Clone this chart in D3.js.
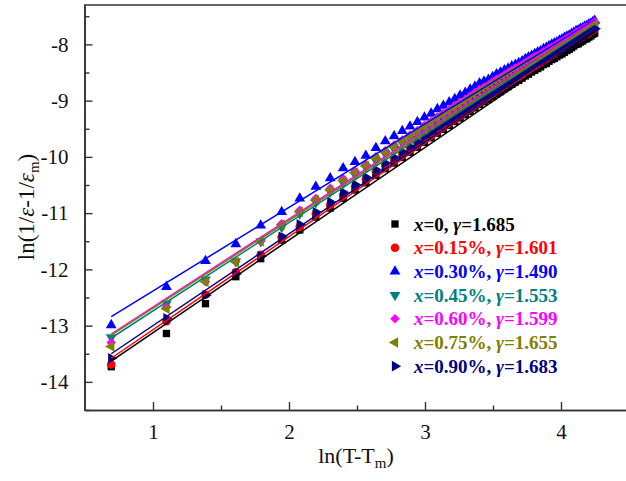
<!DOCTYPE html>
<html><head><meta charset="utf-8">
<script src="https://cdn.jsdelivr.net/npm/d3@7/dist/d3.min.js"></script>
<style>body{margin:0;background:#fff}svg{display:block}text{font-family:"Liberation Serif","Times New Roman",serif}</style>
</head><body><svg id="c" width="626" height="481"></svg>
<script>
// x = ln(T - Tm)
const lnDT = [0.693,1.099,1.386,1.609,1.792,1.946,2.079,2.197,2.303,2.398,2.485,2.565,2.639,2.708,2.773,2.833,2.890,2.944,2.996,3.045,3.091,3.135,3.178,3.219,3.258,3.296,3.332,3.367,3.401,3.434,3.466,3.497,3.526,3.555,3.584,3.611,3.638,3.664,3.689,3.714,3.738,3.761,3.784,3.807,3.829,3.850,3.871,3.892,3.912,3.932,3.951,3.970,3.989,4.007,4.025,4.043,4.060,4.078,4.094,4.111,4.127,4.143,4.159,4.174,4.190,4.205,4.220,4.234,4.248];

const s000 = [-13.73,-13.14,-12.61,-12.13,-11.81,-11.48,-11.30,-11.07,-10.91,-10.74,-10.59,-10.46,-10.33,-10.21,-10.11,-10.01,-9.92,-9.83,-9.74,-9.66,-9.58,-9.51,-9.44,-9.37,-9.31,-9.25,-9.19,-9.13,-9.07,-9.02,-8.98,-8.93,-8.88,-8.84,-8.79,-8.75,-8.71,-8.67,-8.64,-8.60,-8.56,-8.53,-8.49,-8.46,-8.43,-8.40,-8.36,-8.34,-8.30,-8.27,-8.25,-8.22,-8.19,-8.17,-8.14,-8.11,-8.09,-8.06,-8.03,-8.00,-7.99,-7.96,-7.94,-7.91,-7.90,-7.87,-7.85,-7.82,-7.80];
const s015 = [-13.69,-12.92,-12.45,-12.05,-11.74,-11.43,-11.24,-11.01,-10.85,-10.68,-10.53,-10.39,-10.26,-10.14,-10.04,-9.94,-9.85,-9.76,-9.67,-9.59,-9.51,-9.44,-9.37,-9.30,-9.24,-9.18,-9.12,-9.06,-9.00,-8.95,-8.91,-8.86,-8.81,-8.77,-8.72,-8.68,-8.64,-8.60,-8.57,-8.53,-8.48,-8.45,-8.41,-8.38,-8.35,-8.32,-8.28,-8.26,-8.22,-8.19,-8.17,-8.14,-8.11,-8.09,-8.06,-8.03,-8.01,-7.98,-7.95,-7.92,-7.91,-7.88,-7.86,-7.83,-7.82,-7.79,-7.77,-7.74,-7.72];
const s030 = [-12.99,-12.31,-11.85,-11.55,-11.22,-10.98,-10.74,-10.53,-10.38,-10.20,-10.09,-9.98,-9.84,-9.72,-9.63,-9.54,-9.46,-9.38,-9.30,-9.23,-9.15,-9.09,-9.03,-8.97,-8.91,-8.86,-8.80,-8.75,-8.69,-8.66,-8.63,-8.58,-8.53,-8.50,-8.46,-8.43,-8.39,-8.36,-8.33,-8.30,-8.26,-8.23,-8.20,-8.17,-8.14,-8.12,-8.08,-8.06,-8.03,-8.00,-7.98,-7.96,-7.93,-7.91,-7.88,-7.86,-7.84,-7.81,-7.79,-7.76,-7.75,-7.72,-7.71,-7.68,-7.67,-7.64,-7.63,-7.60,-7.58];
const s045 = [-13.21,-12.61,-12.18,-11.86,-11.50,-11.25,-11.01,-10.81,-10.62,-10.46,-10.32,-10.19,-10.07,-9.95,-9.86,-9.76,-9.68,-9.59,-9.51,-9.43,-9.35,-9.29,-9.22,-9.15,-9.10,-9.04,-8.98,-8.92,-8.87,-8.82,-8.78,-8.73,-8.69,-8.65,-8.60,-8.56,-8.52,-8.49,-8.46,-8.42,-8.38,-8.35,-8.32,-8.29,-8.26,-8.23,-8.19,-8.17,-8.14,-8.11,-8.09,-8.06,-8.03,-8.01,-7.98,-7.95,-7.94,-7.91,-7.88,-7.85,-7.84,-7.81,-7.79,-7.77,-7.76,-7.73,-7.71,-7.68,-7.66];
const s060 = [-13.30,-12.67,-12.22,-11.86,-11.50,-11.19,-10.95,-10.74,-10.56,-10.39,-10.25,-10.13,-10.00,-9.89,-9.79,-9.70,-9.61,-9.53,-9.44,-9.37,-9.29,-9.22,-9.16,-9.09,-9.03,-8.98,-8.92,-8.86,-8.80,-8.76,-8.72,-8.67,-8.62,-8.59,-8.54,-8.50,-8.46,-8.42,-8.40,-8.36,-8.32,-8.29,-8.25,-8.22,-8.20,-8.17,-8.13,-8.11,-8.07,-8.05,-8.03,-8.00,-7.97,-7.95,-7.92,-7.89,-7.87,-7.85,-7.82,-7.79,-7.78,-7.75,-7.73,-7.70,-7.70,-7.67,-7.65,-7.62,-7.60];
const s075 = [-13.37,-12.70,-12.22,-11.87,-11.50,-11.21,-10.98,-10.77,-10.59,-10.42,-10.28,-10.16,-10.03,-9.92,-9.83,-9.73,-9.65,-9.56,-9.47,-9.40,-9.32,-9.26,-9.19,-9.12,-9.07,-9.01,-8.95,-8.90,-8.84,-8.79,-8.75,-8.71,-8.66,-8.62,-8.57,-8.54,-8.50,-8.46,-8.43,-8.40,-8.36,-8.33,-8.29,-8.26,-8.24,-8.21,-8.17,-8.15,-8.11,-8.08,-8.07,-8.04,-8.01,-7.99,-7.96,-7.93,-7.91,-7.89,-7.86,-7.83,-7.82,-7.79,-7.77,-7.74,-7.74,-7.71,-7.69,-7.66,-7.64];
const s090 = [-13.58,-12.87,-12.46,-12.08,-11.77,-11.42,-11.20,-10.98,-10.80,-10.63,-10.49,-10.36,-10.23,-10.11,-10.01,-9.91,-9.82,-9.73,-9.64,-9.56,-9.48,-9.41,-9.35,-9.28,-9.22,-9.16,-9.10,-9.04,-8.98,-8.93,-8.89,-8.84,-8.79,-8.75,-8.70,-8.66,-8.62,-8.58,-8.55,-8.51,-8.47,-8.44,-8.40,-8.37,-8.34,-8.32,-8.28,-8.26,-8.22,-8.19,-8.17,-8.14,-8.11,-8.09,-8.06,-8.03,-8.01,-7.98,-7.95,-7.92,-7.91,-7.88,-7.86,-7.83,-7.82,-7.79,-7.77,-7.74,-7.72];

const xLabels = ["0", "0.15%", "0.30%", "0.45%", "0.60%", "0.75%", "0.90%"];
const gammas = ["1.685", "1.601", "1.490", "1.553", "1.599", "1.655", "1.683"];
// fitted straight lines: value at first and last x
const fitStart = [-13.63, -13.58, -12.84, -13.22, -13.15, -13.17, -13.50];
const fitEnd   = [-7.78, -7.70, -7.56, -7.64, -7.58, -7.62, -7.70];

const xTicks = [1, 2, 3, 4];
const yTicks = [-14, -13, -12, -11, -10, -9, -8];

const seriesData = [s000, s015, s030, s045, s060, s075, s090];
const colors = ["#000000", "#ff0000", "#0000ff", "#008080", "#ff00ff", "#808000", "#000080"];
const shapes = [
  {t: d3.symbolSquare, r: 0, s: 54},
  {t: d3.symbolCircle, r: 0, s: 58},
  {t: d3.symbolTriangle, r: 0, s: 50},
  {t: d3.symbolTriangle, r: 180, s: 50},
  {t: d3.symbolSquare, r: 45, s: 46},
  {t: d3.symbolTriangle, r: -90, s: 50},
  {t: d3.symbolTriangle, r: 90, s: 50}
];

const svg = d3.select("#c");
const x = d3.scaleLinear().domain([0.5, 4.5]).range([85, 629]);
const y = d3.scaleLinear().domain([-14.5, -7.3]).range([410, 5]);
const axisColor = "#333";

// frame
svg.append("line").attr("x1", 84).attr("x2", 640).attr("y1", 5).attr("y2", 5).attr("stroke", axisColor).attr("stroke-width", 1.6);

// axes
const gx = svg.append("g").attr("transform", "translate(0,410)")
  .call(d3.axisBottom(x).tickValues(xTicks).tickFormat(d3.format("d")).tickSizeInner(-8).tickSizeOuter(0).tickPadding(14));
const gxm = svg.append("g").attr("transform", "translate(0,410)")
  .call(d3.axisBottom(x).tickValues([1.5, 2.5, 3.5, 4.5]).tickFormat("").tickSizeInner(-4.5).tickSizeOuter(0));
const gy = svg.append("g").attr("transform", "translate(84.5,0)")
  .call(d3.axisLeft(y).tickValues(yTicks).tickFormat(d3.format("d")).tickSizeInner(-8).tickSizeOuter(0).tickPadding(16));
const gym = svg.append("g").attr("transform", "translate(84.5,0)")
  .call(d3.axisLeft(y).tickValues([-14.5, -13.5, -12.5, -11.5, -10.5, -9.5, -8.5, -7.5]).tickFormat("").tickSizeInner(-5).tickSizeOuter(0));
[gx, gxm, gy, gym].forEach(g => {
  g.selectAll("path.domain").attr("stroke", axisColor).attr("stroke-width", 1.6);
  g.selectAll(".tick line").attr("stroke", axisColor).attr("stroke-width", 1.4);
  g.selectAll(".tick text").attr("font-family", "Liberation Serif, Times New Roman, serif").attr("font-size", 21).attr("fill", "#111");
});
gy.selectAll(".tick text").text(d => d3.format("d")(d).replace("−", "-"));

// data markers
seriesData.forEach((arr, i) => {
  const sh = shapes[i];
  const sym = d3.symbol().type(sh.t).size(sh.s);
  svg.append("g").selectAll("path").data(arr.map((v, j) => [lnDT[j], v]).filter(d => d[0] !== undefined))
    .join("path")
    .attr("d", sym)
    .attr("transform", d => `translate(${x(d[0])},${y(d[1])}) rotate(${sh.r})`)
    .attr("fill", colors[i]);
});

// fit lines
seriesData.forEach((arr, i) => {
  const x0 = lnDT[0], x1 = lnDT[lnDT.length - 1];
  svg.append("line")
    .attr("x1", x(x0)).attr("y1", y(fitStart[i]))
    .attr("x2", x(x1)).attr("y2", y(fitEnd[i]))
    .attr("stroke", colors[i]).attr("stroke-width", 1.5);
});

// axis titles
const xt = svg.append("text").attr("x", 356).attr("y", 463).attr("text-anchor", "middle").attr("font-size", 22).attr("fill", "#111");
xt.append("tspan").text("ln(T-T");
xt.append("tspan").attr("font-size", 15).attr("dy", 5).text("m");
xt.append("tspan").attr("dy", -5).text(")");

const yt = svg.append("text").attr("transform", "translate(34,207) rotate(-90)").attr("text-anchor", "middle").attr("font-size", 23).attr("fill", "#111");
yt.append("tspan").text("ln(1/");
yt.append("tspan").attr("font-style", "italic").text("ε");
yt.append("tspan").text("-1/");
yt.append("tspan").attr("font-style", "italic").text("ε");
yt.append("tspan").attr("font-size", 15).attr("dy", 5).text("m");
yt.append("tspan").attr("dy", -5).text(")");

// legend
const lg = svg.append("g");
xLabels.forEach((lab, i) => {
  const yy = 224 + i * 23.7;
  const sh = shapes[i];
  lg.append("path").attr("d", d3.symbol().type(sh.t).size(sh.s)())
    .attr("transform", `translate(395,${yy}) rotate(${sh.r})`).attr("fill", colors[i]);
  const t = lg.append("text").attr("x", 414).attr("y", yy + 6.5).attr("font-size", 19).attr("font-weight", "bold").attr("fill", colors[i]);
  t.append("tspan").attr("font-style", "italic").text("x");
  t.append("tspan").text("=" + lab + ", ");
  t.append("tspan").attr("font-style", "italic").text("γ");
  t.append("tspan").text("=" + gammas[i]);
});
</script></body></html>
